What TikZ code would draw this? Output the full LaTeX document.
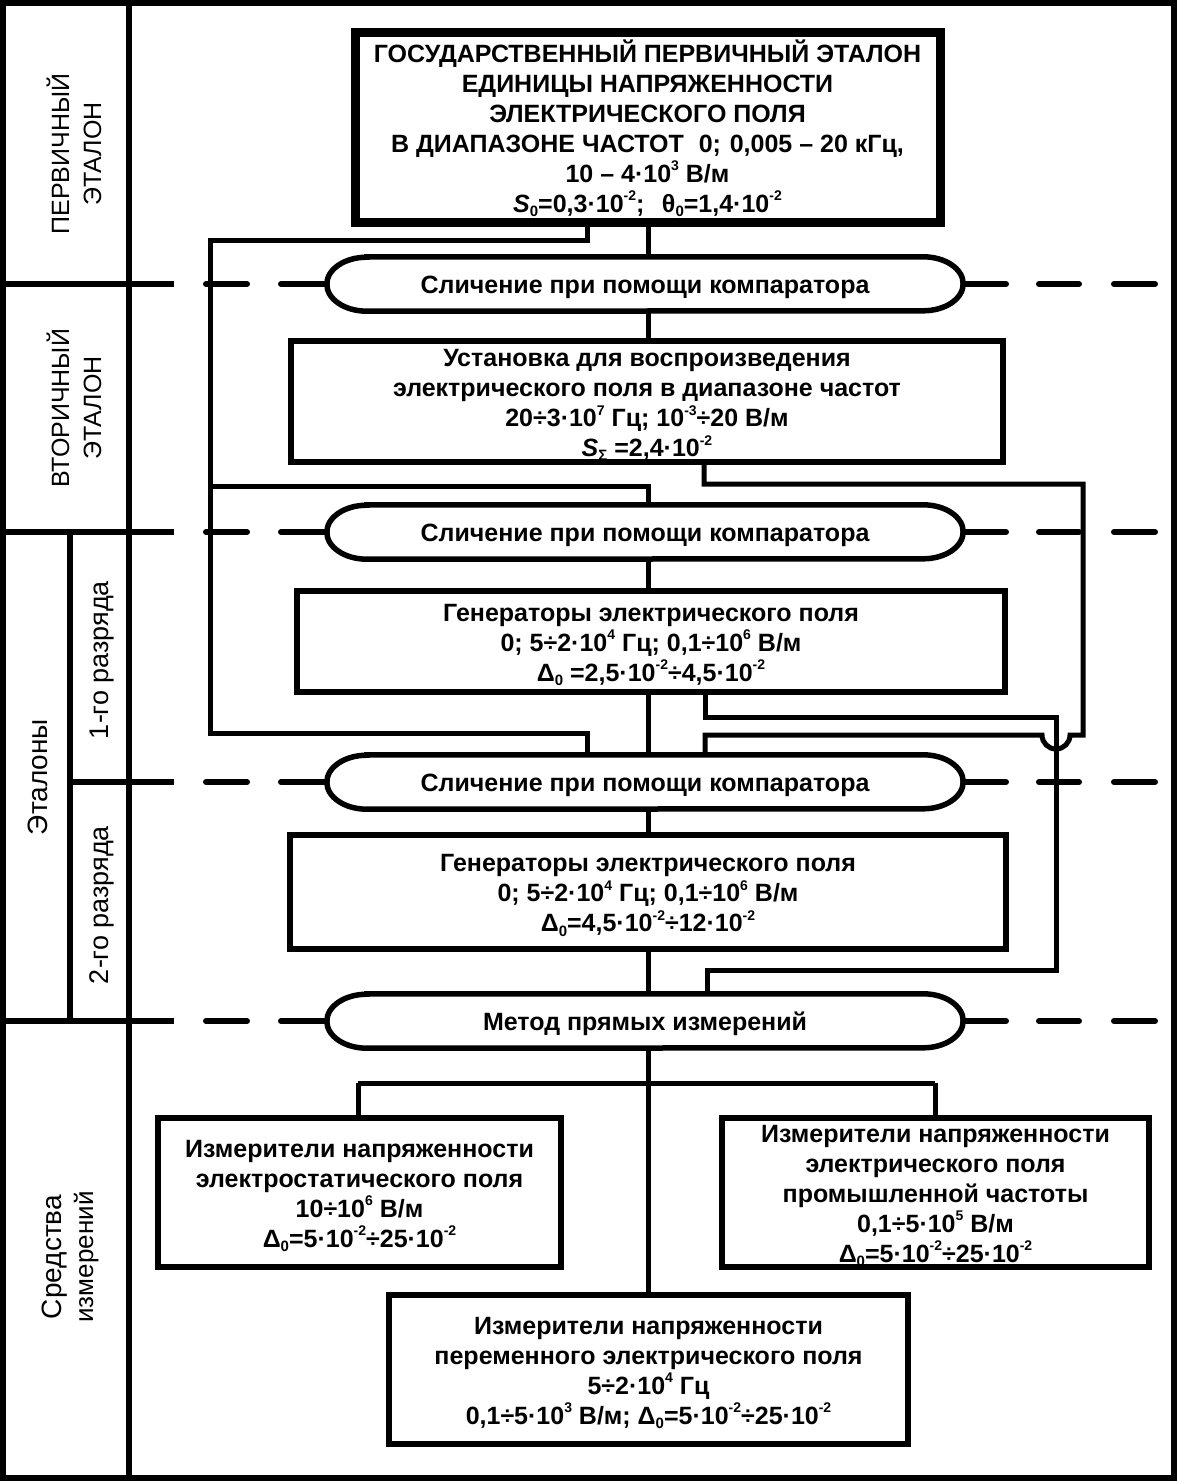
\documentclass[tikz,border=0pt]{standalone}
\usepackage{fontspec}
\setmainfont{Liberation Sans}
\newcommand\sps[1]{\raisebox{0.45em}{\fontsize{14}{14}\selectfont #1}}
\newcommand\sbs[1]{\raisebox{-0.18em}{\fontsize{15}{15}\selectfont #1}}
\newcommand\fs{\rule{0pt}{24pt}}
\newcommand\boxfont{\fontsize{25}{30}\selectfont\bfseries}
\newcommand\labfont{\fontsize{25}{32}\selectfont}
\tikzset{
  frameline/.style={line width=6pt},
  conn/.style={line width=5pt},
  sepdash/.style={line width=6pt, line cap=round},
  tline/.style={line width=6pt},
  stdbox/.style={draw, line width=5.5pt, align=center, inner sep=0pt, font=\boxfont},
  capnode/.style={minimum width=636pt, minimum height=54pt, inner sep=0pt, font=\boxfont,
    execute at begin node={\rule{0pt}{24pt}}},
  capline/.style={line width=5.5pt},
  lab/.style={rotate=90, align=center, inner sep=0pt, font=\labfont},
}
\begin{document}
\begin{tikzpicture}[x=1pt,y=1pt]
\useasboundingbox (0,0) rectangle (1178,-1482);
% outer frame and table lines
\draw[frameline] (3,-3) rectangle (1174,-1478);
\draw[tline] (129,-3) -- (129,-1478);
\draw[tline] (70,-532) -- (70,-1021);
\draw[tline] (0,-284) -- (174,-284);
\draw[tline] (0,-532) -- (174,-532);
\draw[tline] (70,-782) -- (174,-782);
\draw[tline] (0,-1021) -- (174,-1021);

% labels
\node[lab] (l1) at (74,-154) {ПЕРВИЧНЫЙ\\ЭТАЛОН};
\node[lab] (l2) at (74,-408) {ВТОРИЧНЫЙ\\ЭТАЛОН};
\node[lab, font=\fontsize{28}{32}\selectfont] (l3) at (38,-777) {Эталоны};
\node[lab, font=\fontsize{27}{32}\selectfont] (l4) at (102,-660) {1-го разряда};
\node[lab, font=\fontsize{27}{32}\selectfont] (l5) at (102,-905) {2-го разряда};
\node[lab] (l6) at (70,-1257) {{\fontsize{28}{32}\selectfont Средства}\\{\fontsize{26}{32}\selectfont измерений}};

% boxes
\node[stdbox, line width=9pt, minimum width=585pt, minimum height=190pt] (b1) at (647.5,-127.5)
 {\fs ГОСУДАРСТВЕННЫЙ ПЕРВИЧНЫЙ ЭТАЛОН\\ЕДИНИЦЫ НАПРЯЖЕННОСТИ\\ЭЛЕКТРИЧЕСКОГО ПОЛЯ\\
  В ДИАПАЗОНЕ ЧАСТОТ\hspace{0.6em}0;\hspace{0.35em}0,005 – 20 кГц,\\10 – 4·10\sps{3} В/м\\
  \textit{S}\sbs{0}=0,3·10\sps{-2};\hspace{0.7em}θ\sbs{0}=1,4·10\sps{-2}};
\node[stdbox, minimum width=712pt, minimum height=121pt] (b2) at (647,-401.5)
 {\fs Установка для воспроизведения\\электрического поля в диапазоне частот\\
  20÷3·10\sps{7} Гц; 10\sps{-3}÷20 В/м\\\textit{S}\sbs{Σ} =2,4·10\sps{-2}};
\node[stdbox, minimum width=708pt, minimum height=101pt] (b3) at (651,-641.5)
 {\fs Генераторы электрического поля\\0; 5÷2·10\sps{4} Гц; 0,1÷10\sps{6} В/м\\
  Δ\sbs{0} =2,5·10\sps{-2}÷4,5·10\sps{-2}};
\node[stdbox, minimum width=716pt, minimum height=114pt] (b4) at (648,-892)
 {\fs Генераторы электрического поля\\0; 5÷2·10\sps{4} Гц; 0,1÷10\sps{6} В/м\\
  Δ\sbs{0}=4,5·10\sps{-2}÷12·10\sps{-2}};
\node[stdbox, minimum width=403pt, minimum height=149pt] (b5) at (359.5,-1192.5)
 {\fs Измерители напряженности\\электростатического поля\\10÷10\sps{6} В/м\\
  Δ\sbs{0}=5·10\sps{-2}÷25·10\sps{-2}};
\node[stdbox, minimum width=427pt, minimum height=149pt] (b6) at (935.5,-1192.5)
 {\fs Измерители напряженности\\электрического поля\\промышленной частоты\\0,1÷5·10\sps{5} В/м\\
  Δ\sbs{0}=5·10\sps{-2}÷25·10\sps{-2}};
\node[stdbox, minimum width=519pt, minimum height=149pt] (b7) at (648.5,-1369.5)
 {\fs Измерители напряженности\\переменного электрического поля\\5÷2·10\sps{4} Гц\\
  0,1÷5·10\sps{3} В/м; Δ\sbs{0}=5·10\sps{-2}÷25·10\sps{-2}};

% capsules
\node[capnode] (c1) at (645,-284) {Сличение при помощи компаратора};
\node[capnode] (c2) at (645,-532) {Сличение при помощи компаратора};
\node[capnode] (c3) at (645,-782) {Сличение при помощи компаратора};
\node[capnode] (c4) at (645,-1021) {Метод прямых измерений};
\foreach \c in {c1,c2,c3,c4}{
  \draw[capline] ([xshift=40pt]\c.north west) -- ([xshift=-40pt]\c.north east)
    arc[start angle=90, end angle=-90, x radius=40pt, y radius=27pt]
    -- ([xshift=40pt]\c.south west)
    arc[start angle=270, end angle=90, x radius=40pt, y radius=27pt] -- cycle;
}

% dashed separators
\foreach \c/\yy in {c1/284, c2/532, c3/782, c4/1021}{
  \draw[sepdash] (206,-\yy) -- (247,-\yy);
  \draw[sepdash] (281,-\yy) -- (\c.west);
  \draw[sepdash] (\c.east) -- (1006,-\yy);
  \draw[sepdash] (1039,-\yy) -- (1079,-\yy);
  \draw[sepdash] (1114,-\yy) -- (1155,-\yy);
}

% connectors
\coordinate (mx) at (648,0);
\draw[conn] (b1.south -| mx) -- (c1.north -| mx);
\draw[conn] (c1.south -| mx) -- (b2.north -| mx);
\draw[conn] (c2.south -| mx) -- (b3.north -| mx);
\draw[conn] (b3.south -| mx) -- (c3.north -| mx);
\draw[conn] (c3.south -| mx) -- (b4.north -| mx);
\draw[conn] (b4.south -| mx) -- (c4.north -| mx);
\draw[conn] (c4.south -| mx) -- (b7.north -| mx);

\coordinate (p1) at (587,-240);
\coordinate (p2) at (210,-240);
\coordinate (p3) at (210,-733);
\coordinate (p4) at (587,-733);
\draw[conn] (b1.south -| p1) -- (p1) -- (p2) -- (p3) -- (p4) -- (c3.north -| p4);
\coordinate (p5) at (210,-486);
\coordinate (p6) at (648,-486);
\draw[conn] (p5) -- (p6) -- (c2.north -| p6);

\coordinate (q1) at (704,-484);
\coordinate (q2) at (1083,-484);
\coordinate (q3) at (1083,-735);
\coordinate (q4) at (1070,-735);
\coordinate (q5) at (705,-735);
\draw[conn] (b2.south -| q1) -- (q1) -- (q2) -- (q3) -- (q4)
  arc[start angle=0, end angle=-180, radius=14pt] -- (q5) -- (c3.north -| q5);

\coordinate (r1) at (705,-717);
\coordinate (r2) at (1056,-717);
\coordinate (r3) at (1056,-970);
\coordinate (r4) at (707,-970);
\draw[conn] (b3.south -| r1) -- (r1) -- (r2) -- (r3) -- (r4) -- (c4.north -| r4);

\coordinate (s1) at (358,-1083);
\coordinate (s2) at (935,-1083);
\draw[conn] (s1) -- (s2);
\draw[conn] (s1) -- (b5.north -| s1);
\draw[conn] (s2) -- (b6.north -| s2);
\end{tikzpicture}
\end{document}
